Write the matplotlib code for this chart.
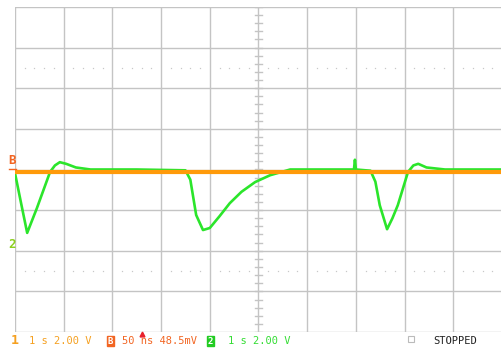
import numpy as np
import matplotlib
matplotlib.use("Agg")
import matplotlib.pyplot as plt

# scope settings: 1 s/div, channel 2 at 2.00 V/div
sec_per_div = 1.0
ch2_volts_per_div = 2.00

# channel 2 (green) trace, time in s and level in V
ch2_t = [0.00, 0.12, 0.25, 0.45, 0.72, 0.82, 0.92, 1.05, 1.25, 1.55,
         2.50, 3.50, 3.60, 3.72, 3.86, 4.00, 4.20, 4.41, 4.65, 4.93,
         5.24, 5.65, 6.50, 6.96, 6.98, 7.00, 7.30, 7.40, 7.49, 7.64,
         7.75, 7.86, 8.07, 8.18, 8.28, 8.45, 8.83, 10.00]
ch2_v = [-0.18, -1.60, -3.12, -1.90, -0.12, 0.20, 0.36, 0.28, 0.10, 0.00,
         0.00, -0.04, -0.50, -2.24, -2.98, -2.88, -2.30, -1.66, -1.10, -0.62,
         -0.28, 0.00, 0.00, 0.00, 0.48, 0.00, -0.06, -0.60, -1.76, -2.94,
         -2.40, -1.76, -0.12, 0.20, 0.28, 0.10, 0.00, 0.00]

# trace B (orange), flat level in divisions
chb_t = [0.0, 10.0]
chb_div = [-0.06, -0.06]

W, H = 502, 349
fig = plt.figure(figsize=(W / 100, H / 100), dpi=100)
fig.patch.set_facecolor("white")
ax = fig.add_axes([15 / W, 17 / H, 487 / W, 325 / H])
ax.set_xlim(0, 10)
ax.set_ylim(-4, 4)
ax.axis("off")

grid_c = "#C4C4C4"
for gx in range(0, 11):
    ax.axvline(gx, color=grid_c, lw=1.0, zorder=1)
for gy in range(-4, 5):
    ax.axhline(gy, color=grid_c, lw=1.0, zorder=1)

# dotted rows at +/-2.5 div
dots_x = np.array([k + j / 5 for k in range(10) for j in range(1, 5)])
for dy in (2.5, -2.5):
    ax.plot(dots_x, np.full_like(dots_x, dy), ls="none", marker="s",
            ms=0.9, color="#C8C8C8", mew=0, zorder=1)

# minor ticks on the vertical centre axis
for ty in np.arange(-4, 4.01, 0.2):
    ax.plot([4.92, 5.08], [ty, ty], color=grid_c, lw=1.0, zorder=1)

t2 = np.array(ch2_t) / sec_per_div
y2 = np.array(ch2_v) / ch2_volts_per_div
ax.plot(t2, y2, color="#2BE52B", lw=1.9, solid_joinstyle="round", zorder=3)
ax.plot(np.array(chb_t) / sec_per_div, chb_div, color="#FF9A0A", lw=3.0,
        zorder=4)

mono = "DejaVu Sans Mono"
orange = "#F5A020"
red_orange = "#F26522"
green = "#33DD33"

# level markers on the left
fig.text(12 / W, 1 - 160 / H, "B", color=red_orange, fontsize=9,
         family=mono, fontweight="bold", ha="center", va="center")
fig.add_artist(plt.Line2D([9 / W, 16 / W], [1 - 168.5 / H] * 2,
                          color=red_orange, lw=1.0))
fig.text(12 / W, 1 - 244 / H, "2", color="#8CD01E", fontsize=9,
         family=mono, fontweight="bold", ha="center", va="center")

# status line
yb = 1 - 341 / H
fig.text(11 / W, yb, "1", color=orange, fontsize=9.5, family=mono,
         fontweight="bold", va="center")
fig.text(29 / W, yb, "1 s 2.00 V", color=orange, fontsize=7.5,
         family=mono, va="center")
fig.text(108 / W, yb, "B", color="white", fontsize=6.5, family=mono,
         fontweight="bold", va="center",
         bbox=dict(boxstyle="square,pad=0.08", fc=red_orange, ec=red_orange))
fig.text(122 / W, yb, "50 ns 48.5mV", color=red_orange, fontsize=7.5,
         family=mono, va="center")
fig.add_artist(plt.Line2D([142 / W], [1 - 334 / H], marker="^", ms=3.5,
                          color="#E8202A", ls="none"))
fig.text(208 / W, yb, "2", color="white", fontsize=6.5, family=mono,
         fontweight="bold", va="center",
         bbox=dict(boxstyle="square,pad=0.08", fc="#22CC22", ec="#22CC22"))
fig.text(228 / W, yb, "1 s 2.00 V", color=green, fontsize=7.5,
         family=mono, va="center")
fig.add_artist(plt.Line2D([411 / W], [1 - 339 / H], marker="s", ms=5,
                          mfc="none", mec="#BBBBBB", mew=0.8, ls="none"))
fig.text(433 / W, yb, "STOPPED", color="#222222", fontsize=7.5,
         family=mono, va="center")

fig.savefig("out.png", dpi=100, facecolor="white")
